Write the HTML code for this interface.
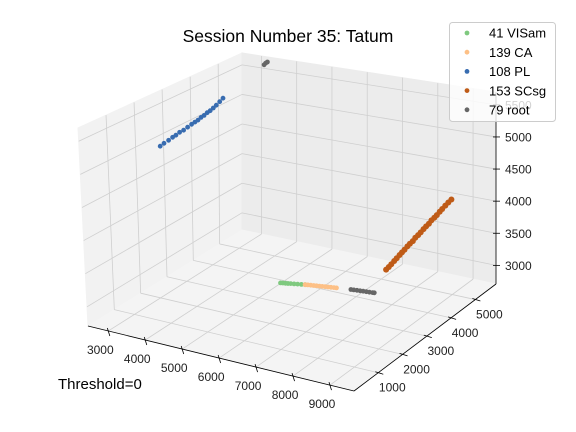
<!DOCTYPE html>
<html><head><meta charset="utf-8"><style>
html,body{margin:0;padding:0;background:#fff;}
svg{display:block;font-family:"Liberation Sans","DejaVu Sans",sans-serif;}
</style></head><body>
<svg id="chart" width="576" height="432" viewBox="0 0 576 432" xmlns="http://www.w3.org/2000/svg">
<g id="panes"></g>
<g id="grid"></g>
<g id="axes"></g>
<g id="marks"></g>
<text x="288" y="42" font-size="17.5" text-anchor="middle" fill="#000">Session Number 35: Tatum</text>
<text x="58" y="389" font-size="15" fill="#000">Threshold=0</text>
<g id="legend"></g>
</svg>
<script>
const xTicks=[3000,4000,5000,6000,7000,8000,9000];
const yTicks=[1000,2000,3000,4000,5000];
const zTicks=[3000,3500,4000,4500,5000,5500];
const seriesNames=["41 VISam","139 CA","108 PL","153 SCsg","79 root"];
const seriesColors=["#7fc97f","#fdc086","#386cb0","#bf5b17","#666666"];
const visamX=[5266,5320,5380,5440,5500,5580,5660,5750,5835];
const visamY=[3473,3490,3505,3520,3540,3560,3585,3610,3633];
const visamZ=[2850,2850,2850,2850,2850,2850,2850,2850,2850];
const caX=[5835,5900,5970,6040,6110,6180,6250,6320,6390,6460,6530,6593];
const caY=[3633,3650,3665,3680,3695,3710,3725,3740,3755,3770,3785,3800];
const caZ=[2850,2850,2850,2850,2850,2850,2850,2850,2850,2850,2850,2850];
const plX=[2853,2900,2960,3010,3050,3100,3150,3200,3250,3290,3330,3370,3410,3450,3490,3530,3570,3610,3650];
const plY=[2353,2430,2520,2600,2670,2740,2820,2900,2980,3050,3110,3170,3230,3290,3350,3410,3470,3540,3610];
const plZ=[4980,5014,5048,5083,5105,5140,5162,5197,5231,5254,5277,5311,5334,5368,5391,5425,5460,5505,5550];
const scsgX=[7324,7380,7430,7490,7540,7600,7650,7700,7760,7810,7870,7920,7980,8030,8090,8140,8200,8250,8310,8360,8420,8470,8530,8590,8650];
const scsgY=[4735,4765,4795,4825,4855,4885,4910,4940,4970,5000,5030,5060,5090,5120,5150,5180,5210,5240,5270,5300,5330,5360,5400,5435,5472];
const scsgZ=[2970,3010,3050,3100,3140,3190,3230,3270,3320,3360,3400,3450,3490,3530,3580,3620,3660,3710,3750,3790,3840,3880,3930,3975,4020];
const rootX=[6945,7020,7100,7180,7260,7340,7420,7500,7544,3130,3170,3210];
const rootY=[3870,3880,3890,3900,3910,3920,3930,3940,3947,5780,5790,5800];
const rootZ=[2850,2850,2850,2850,2850,2850,2850,2850,2850,5580,5610,5630];

const XMIN=2450,XMAX=9650,YMIN=0,YMAX=5850,ZMIN=2710,ZMAX=5700;
const B00=[88,326],B10=[354,391],B01=[242,230],B11=[496,284];
const T00=[78,128],T10=[352,176],T01=[242,53],T11=[496,92];
function bil(a,b,c,d,u,v,k){return (1-u)*(1-v)*a[k]+u*(1-v)*b[k]+(1-u)*v*c[k]+u*v*d[k];}
function proj(x,y,z){const u=(x-XMIN)/(XMAX-XMIN),v=(y-YMIN)/(YMAX-YMIN),w=(z-ZMIN)/(ZMAX-ZMIN);
 const r=[];for(let k=0;k<2;k++){r.push((1-w)*bil(B00,B10,B01,B11,u,v,k)+w*bil(T00,T10,T01,T11,u,v,k));}return r;}
const NS="http://www.w3.org/2000/svg";
function mk(tag,attrs,parent){const e=document.createElementNS(NS,tag);for(const k in attrs)e.setAttribute(k,attrs[k]);parent.appendChild(e);return e;}
function pts(a){return a.map(p=>p[0].toFixed(1)+","+p[1].toFixed(1)).join(" ");}
const panes=document.getElementById('panes'),grid=document.getElementById('grid'),axes=document.getElementById('axes'),marks=document.getElementById('marks'),legend=document.getElementById('legend');
let p=mk('polygon',{points:pts([proj(XMIN,YMIN,ZMIN),proj(XMIN,YMAX,ZMIN),proj(XMIN,YMAX,ZMAX),proj(XMIN,YMIN,ZMAX)]),fill:"#f2f2f2",stroke:"#f2f2f2"},panes);


p=mk('polygon',{points:pts([proj(XMIN,YMAX,ZMIN),proj(XMAX,YMAX,ZMIN),proj(XMAX,YMAX,ZMAX),proj(XMIN,YMAX,ZMAX)]),fill:"#ececec",stroke:"#ececec"},panes);


p=mk('polygon',{points:pts([proj(XMIN,YMIN,ZMIN),proj(XMAX,YMIN,ZMIN),proj(XMAX,YMAX,ZMIN),proj(XMIN,YMAX,ZMIN)]),fill:"#f4f4f4",stroke:"#f4f4f4"},panes);


function gl(a,b,name){const s=mk('line',{x1:a[0],y1:a[1],x2:b[0],y2:b[1],stroke:"#cfcfcf","stroke-width":0.8},grid);
 
 }
xTicks.forEach(t=>{gl(proj(t,YMIN,ZMIN),proj(t,YMAX,ZMIN),'x-gridline');gl(proj(t,YMAX,ZMIN),proj(t,YMAX,ZMAX),'x-gridline');});
yTicks.forEach(t=>{gl(proj(XMIN,t,ZMIN),proj(XMAX,t,ZMIN),'y-gridline');gl(proj(XMIN,t,ZMIN),proj(XMIN,t,ZMAX),'y-gridline');});
zTicks.forEach(t=>{gl(proj(XMIN,YMIN,t),proj(XMIN,YMAX,t),'z-gridline');gl(proj(XMIN,YMAX,t),proj(XMAX,YMAX,t),'z-gridline');});
function al(a,b,name){const s=mk('line',{x1:a[0],y1:a[1],x2:b[0],y2:b[1],stroke:"#000","stroke-width":0.8},axes);
 
 }
al(proj(XMIN,YMIN,ZMIN),proj(XMAX,YMIN,ZMIN),'x-axis-line');
al(proj(XMAX,YMIN,ZMIN),proj(XMAX,YMAX,ZMIN),'y-axis-line');
al(proj(XMAX,YMAX,ZMIN),proj(XMAX,YMAX,ZMAX),'z-axis-line');
function lab(x,y,txt,anchor,name){const t=mk('text',{x:x,y:y,"font-size":12,fill:"#222","text-anchor":anchor},axes);t.textContent=txt;
 
 }
xTicks.forEach(t=>{const a=proj(t,YMIN,ZMIN);al([a[0]-1,a[1]-3],[a[0]+1.5,a[1]+5],'x-tick');lab(a[0]-8,a[1]+23,String(t),'middle','x-tick-label');});
yTicks.forEach(t=>{const b=proj(XMAX,t,ZMIN);al([b[0]-3,b[1]-1],[b[0]+5,b[1]+1.5],'y-tick');lab(b[0]+14,b[1]+19,String(t),'middle','y-tick-label');});
zTicks.forEach(t=>{const b=proj(XMAX,YMAX,t);al([b[0]-3,b[1]],[b[0]+4,b[1]],'z-tick');lab(b[0]+9,b[1]+4.5,String(t),'start','z-tick-label');});
const allSeries=[[visamX,visamY,visamZ],[caX,caY,caZ],[plX,plY,plZ],[scsgX,scsgY,scsgZ],[rootX,rootY,rootZ]];
const radii=[2.4,2.4,2.4,3,2.4];
allSeries.forEach((s,i)=>{s[0].forEach((x,j)=>{const q=proj(x,s[1][j],s[2][j]);
 const c=mk('circle',{cx:q[0].toFixed(1),cy:q[1].toFixed(1),r:radii[i],fill:seriesColors[i]},marks);
 
 });});
const box=mk('rect',{x:449.5,y:22.5,width:106,height:99,rx:3,fill:"#fff","fill-opacity":0.8,stroke:"#cccccc"},legend);


seriesNames.forEach((n,i)=>{const y=33+i*19.2;
 const g=mk('g',{},legend);
 
 
 mk('circle',{cx:467,cy:y,r:2.4,fill:seriesColors[i]},g);
 const t=mk('text',{x:489,y:y+4.7,"font-size":13,fill:"#000"},g);t.textContent=n;});
</script>
</body></html>
